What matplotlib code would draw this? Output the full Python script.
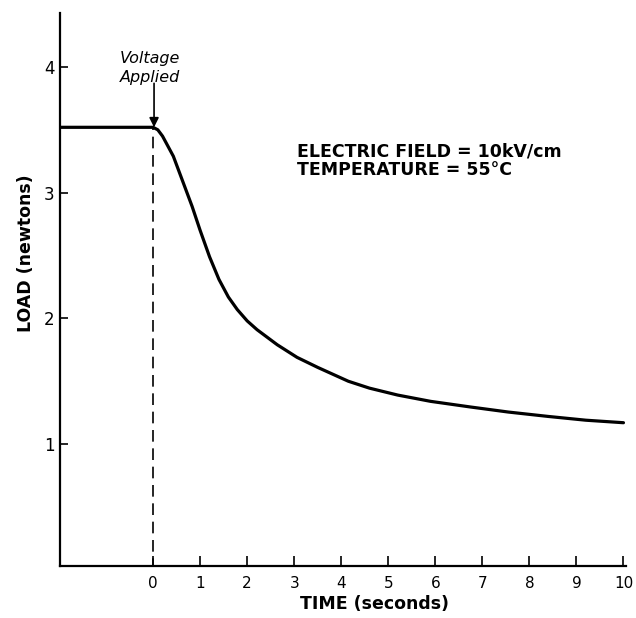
import matplotlib
matplotlib.use("Agg")
import matplotlib.pyplot as plt

# Load relaxation after the field is switched on at t = 0
time_s = [-2.0, -1.0, 0.0, 0.1, 0.2, 0.43, 0.64, 0.83, 1.0, 1.2, 1.4, 1.6, 1.79, 2.0,
          2.21, 2.64, 3.06, 3.5, 4.15, 4.6, 5.2, 5.9, 6.75, 7.55, 8.4, 9.2, 10.0]
load_n = [3.52, 3.52, 3.52, 3.50, 3.45, 3.29, 3.08, 2.89, 2.70, 2.49, 2.31, 2.17, 2.07, 1.98,
          1.91, 1.79, 1.69, 1.61, 1.50, 1.445, 1.39, 1.34, 1.295, 1.255, 1.22, 1.19, 1.17]

x_ticks = list(range(0, 11))
y_ticks = [1, 2, 3, 4]
plateau = load_n[2]

fig = plt.figure(figsize=(6.36, 6.18), dpi=100)
ax = fig.add_axes([0.0943, 0.0841, 0.8897, 0.895])

ax.plot(time_s, load_n, color="black", lw=2.3, solid_capstyle="round", solid_joinstyle="round")
ax.plot([0, 0], [0, plateau], color="black", lw=1.2, dashes=(7, 4))

ax.set_xlim(-1.98, 10.05)
ax.set_ylim(0.03, 4.43)
ax.set_xticks(x_ticks)
ax.set_xticklabels([str(t) for t in x_ticks])
ax.set_yticks(y_ticks)
ax.set_yticklabels([str(t) for t in y_ticks])

for side in ("top", "right"):
    ax.spines[side].set_visible(False)
for side in ("left", "bottom"):
    ax.spines[side].set_linewidth(1.6)

ax.tick_params(axis="x", direction="in", length=7, width=1.2, pad=7, labelsize=11)
ax.tick_params(axis="y", direction="in", length=6, width=1.2, pad=4, labelsize=12)

ax.text(3.13, -0.2, "TIME (seconds)", transform=ax.transData, ha="left", va="top",
        fontsize=12.5, fontweight="bold")
ax.text(-2.7, 2.52, "LOAD (newtons)", rotation=90, ha="center", va="center",
        fontsize=12.5, fontweight="bold")

ax.text(-0.06, 4.07, "Voltage", style="italic", ha="center", va="center", fontsize=11.5)
ax.text(-0.06, 3.92, "Applied", style="italic", ha="center", va="center", fontsize=11.5)
ax.annotate("", xy=(0.02, plateau), xytext=(0.02, 3.87),
            arrowprops=dict(arrowstyle="-|>", color="black", lw=1.2,
                            mutation_scale=14, shrinkA=0, shrinkB=0))

ax.text(3.06, 3.33, "ELECTRIC FIELD = 10kV/cm", ha="left", va="center",
        fontsize=12.5, fontweight="bold")
ax.text(3.06, 3.18, "TEMPERATURE = 55\u00b0C", ha="left", va="center",
        fontsize=12.5, fontweight="bold")

fig.savefig("out.png", dpi=100)
